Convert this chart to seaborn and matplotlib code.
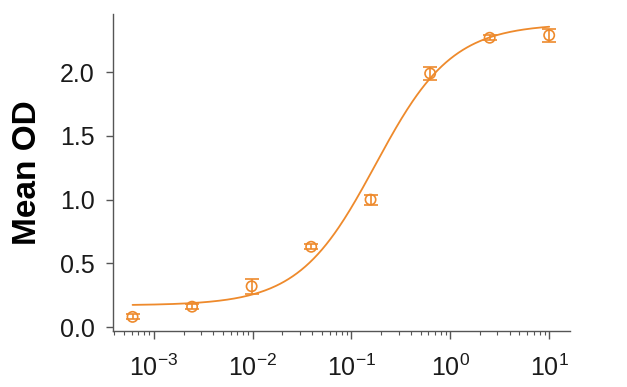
import numpy as np
import pandas as pd
import matplotlib
matplotlib.use("Agg")
import matplotlib.pyplot as plt
import seaborn as sns
from matplotlib.ticker import LogLocator, LogFormatterMathtext, NullFormatter, FixedLocator

# Data
concentration = [0.00061, 0.00244, 0.00977, 0.0391, 0.156, 0.625, 2.5, 10.0]
mean_od = [0.08, 0.16, 0.32, 0.63, 1.00, 1.99, 2.27, 2.29]
od_err = [0.02, 0.02, 0.06, 0.02, 0.04, 0.05, 0.02, 0.05]

# 4PL fit parameters estimated from the drawn curve
fit_bottom = 0.17
fit_top = 2.38
fit_ec50 = 0.175
fit_hill = 1.12

color = "#EE8A2C"

sns.set_theme(style="ticks")
plt.rcParams["font.family"] = ["Liberation Sans", "DejaVu Sans"]
plt.rcParams["mathtext.default"] = "regular"

fig = plt.figure(figsize=(6.27, 3.87), dpi=100)
ax = fig.add_axes([0.180, 0.145, 0.729, 0.819])

xfit = np.logspace(np.log10(concentration[0]), np.log10(concentration[-1]), 300)
yfit = fit_bottom + (fit_top - fit_bottom) / (1 + (fit_ec50 / xfit) ** fit_hill)
fit_df = pd.DataFrame({"x": xfit, "y": yfit})
sns.lineplot(data=fit_df, x="x", y="y", ax=ax, color=color, linewidth=1.3)

ax.errorbar(concentration, mean_od, yerr=od_err, fmt="none", ecolor=color,
            elinewidth=1.2, capsize=5, capthick=1.2, zorder=3)
df = pd.DataFrame({"x": concentration, "y": mean_od})
sns.scatterplot(data=df, x="x", y="y", ax=ax, marker="o", s=55,
                facecolor="none", edgecolor=color, linewidth=1.2, zorder=4)

ax.set_xscale("log")
ax.set_xlim(10 ** -3.414, 10 ** 1.21)
ax.set_ylim(-0.03, 2.457)
ax.set_yticks([0.0, 0.5, 1.0, 1.5, 2.0])
ax.set_yticklabels(["0.0", "0.5", "1.0", "1.5", "2.0"])
ax.xaxis.set_major_locator(FixedLocator([1e-3, 1e-2, 1e-1, 1e0, 1e1]))
ax.xaxis.set_major_formatter(LogFormatterMathtext())
ax.xaxis.set_minor_locator(LogLocator(base=10, subs=np.arange(2, 10), numticks=20))
ax.xaxis.set_minor_formatter(NullFormatter())

ax.set_xlabel("")
ax.set_ylabel("Mean OD", fontsize=24, fontweight="bold", labelpad=12, color="black")

for s in ["top", "right"]:
    ax.spines[s].set_visible(False)
for s in ["left", "bottom"]:
    ax.spines[s].set_color("#555555")
    ax.spines[s].set_linewidth(1.0)

ax.tick_params(axis="y", which="major", length=5, width=1, color="#555555",
               labelsize=18, pad=8, labelcolor="#1a1a1a")
ax.tick_params(axis="x", which="major", length=6, width=1, color="#555555",
               labelsize=18, pad=11, labelcolor="#1a1a1a")
ax.tick_params(axis="x", which="minor", length=3, width=0.8, color="#555555")

fig.savefig("out.png", dpi=100)
